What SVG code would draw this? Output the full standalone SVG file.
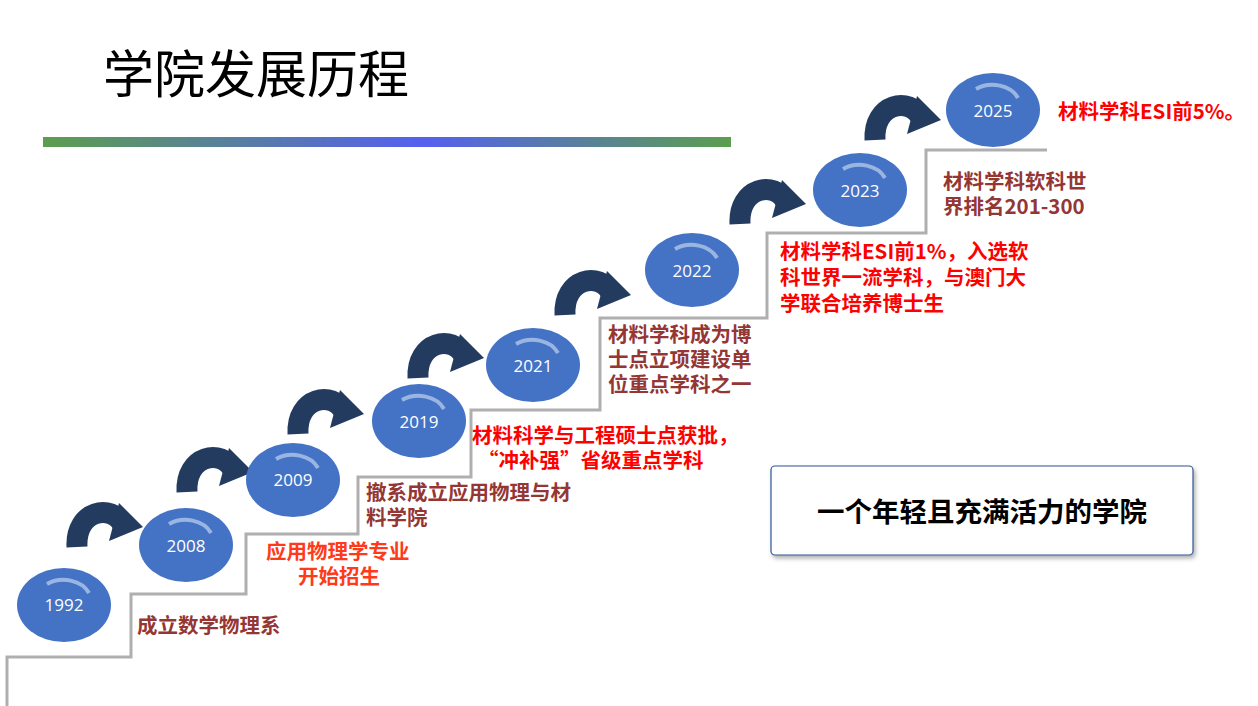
<svg xmlns="http://www.w3.org/2000/svg" xmlns:xlink="http://www.w3.org/1999/xlink" width="1258" height="706" viewBox="0 0 1258 706">
<style>
.yr{fill:#4472C4}
.yt{font-family:"Open Sans","Liberation Sans",sans-serif;font-size:17px;fill:#fff;text-anchor:middle}
.hl{fill:none;stroke:#A9C1E8;stroke-width:4;opacity:.85}
.t{font-family:"Noto Sans CJK SC",sans-serif;font-weight:bold;font-size:20.5px}
.dr{fill:#943634}.rd{fill:#FF0000}.or{fill:#FF3A1A}
</style>
<defs>
<linearGradient id="bar" x1="0" x2="1"><stop offset="0" stop-color="#5B9E4E"/><stop offset="0.55" stop-color="#5560F0"/><stop offset="1" stop-color="#5B9E4E"/></linearGradient>
<g id="arr"><path d="M10,42 C8,5 45,-2 56,20" fill="none" stroke="#243B60" stroke-width="21"/><polygon points="52,-2 76,22 42,36" fill="#243B60"/></g>
<g id="yc"><ellipse class="yr" cx="0" cy="0" rx="47" ry="37"/><path class="hl" d="M-17,-21 A28,22 0 0 1 25,-12"/></g>
<filter id="sh"><feDropShadow dx="2" dy="3" stdDeviation="2" flood-opacity="0.3"/></filter>
</defs>
<rect width="1258" height="706" fill="#fff"/>
<text x="103" y="93" font-family="Noto Sans CJK SC,sans-serif" font-size="51" fill="#000">学院发展历程</text>
<rect x="43" y="137" width="688" height="10" fill="url(#bar)"/>
<g id="connectors">
<path d="M7,706 V657 H131 V594 H246 V534 H358 V477 H471 V410 H600 V318 H767 V233 H926 V150 H1047" fill="none" stroke="#AFAFAF" stroke-width="3"/>
<use xlink:href="#arr" x="67" y="505"/>
<use xlink:href="#arr" x="177" y="450"/>
<use xlink:href="#arr" x="288" y="392"/>
<use xlink:href="#arr" x="408" y="336"/>
<use xlink:href="#arr" x="555" y="273"/>
<use xlink:href="#arr" x="730" y="182"/>
<use xlink:href="#arr" x="865" y="98"/>
</g>
<g id="n1992"><use xlink:href="#yc" x="64" y="605"/><text class="yt" x="64" y="611" font-size="15">1992</text></g>
<g id="n2008"><use xlink:href="#yc" x="186" y="545"/><text class="yt" x="186" y="552">2008</text></g>
<g id="n2009"><use xlink:href="#yc" x="293" y="480"/><text class="yt" x="293" y="486" font-size="15">2009</text></g>
<g id="n2019"><use xlink:href="#yc" x="419" y="421"/><text class="yt" x="419" y="428">2019</text></g>
<g id="n2021"><use xlink:href="#yc" x="533" y="365"/><text class="yt" x="533" y="372">2021</text></g>
<g id="n2022"><use xlink:href="#yc" x="692" y="270"/><text class="yt" x="692" y="277">2022</text></g>
<g id="n2023"><use xlink:href="#yc" x="860" y="190"/><text class="yt" x="860" y="197">2023</text></g>
<g id="n2025"><use xlink:href="#yc" x="993" y="110"/><text class="yt" x="993" y="117">2025</text></g>
<text class="t dr" x="137" y="633">成立数学物理系</text>
<text class="t or" y="559"><tspan x="266">应用物理学专业</tspan><tspan x="298" y="584">开始招生</tspan></text>
<text class="t dr" y="500"><tspan x="366">撤系成立应用物理与材</tspan><tspan x="366" y="525">料学院</tspan></text>
<text class="t rd" y="443"><tspan x="472">材料科学与工程硕士点获批，</tspan><tspan x="478" y="468">“冲补强”省级重点学科</tspan></text>
<text class="t dr" y="342"><tspan x="608">材料学科成为博</tspan><tspan x="608" y="367">士点立项建设单</tspan><tspan x="608" y="392">位重点学科之一</tspan></text>
<text class="t rd" y="259"><tspan x="780">材料学科ESI前1%，入选软</tspan><tspan x="780" y="285">科世界一流学科，与澳门大</tspan><tspan x="780" y="311">学联合培养博士生</tspan></text>
<text class="t dr" y="189"><tspan x="943">材料学科软科世</tspan><tspan x="943" y="214">界排名201-300</tspan></text>
<text class="t rd" x="1058" y="119">材料学科ESI前5%。</text>
<g id="box"><rect x="771" y="466" width="422" height="89" rx="4" fill="#fff" stroke="#2F5597" stroke-width="1.2" filter="url(#sh)"/>
<text x="982" y="522" text-anchor="middle" font-family="Noto Sans CJK SC,sans-serif" font-weight="bold" font-size="27.5" fill="#000">一个年轻且充满活力的学院</text></g>
</svg>
